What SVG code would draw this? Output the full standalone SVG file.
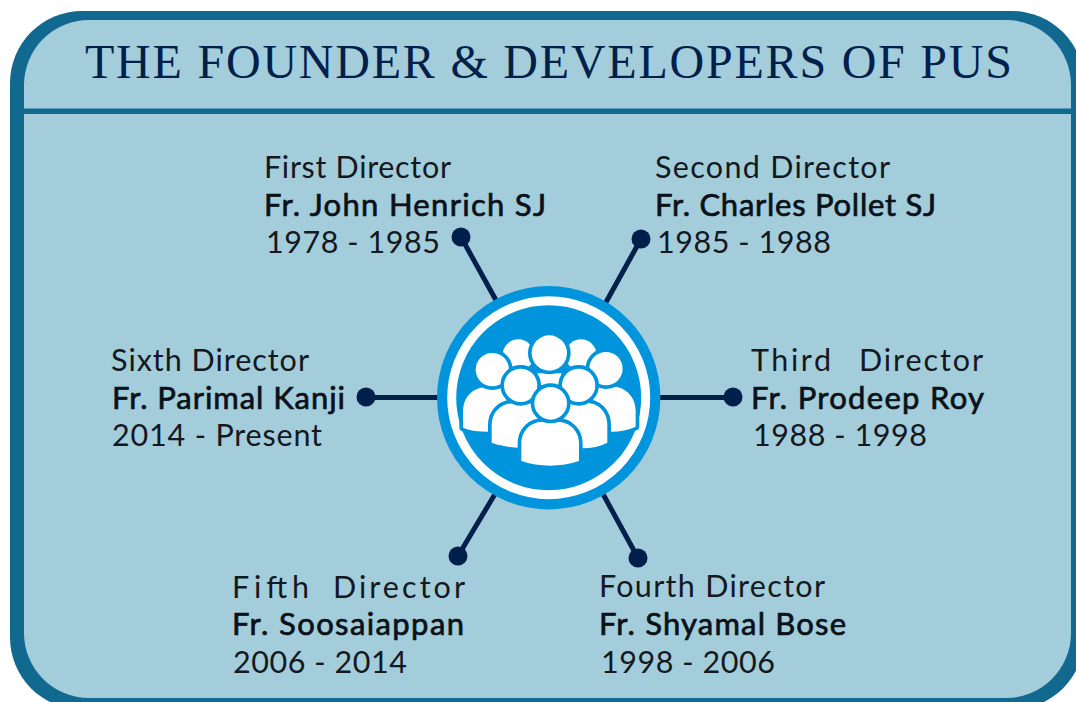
<svg xmlns="http://www.w3.org/2000/svg" width="1076" height="702" viewBox="0 0 1076 702">
<style>
.t{font-family:Lato,"Open Sans",sans-serif;font-size:30.5px;fill:#14181f}
.n{font-family:Lato,"Open Sans",sans-serif;font-size:31px;fill:#0b1118;stroke:#0b1118;stroke-width:.7px}
.title{font-family:"Liberation Serif",serif;font-size:48px;fill:#011f4b}
.c{stroke:#011f4b;stroke-width:5;fill:none}
.d{fill:#011f4b}
.p{fill:#fff;stroke:#0094dc;stroke-width:22;paint-order:stroke;stroke-linejoin:round}
</style>
<g id="frame">
<rect x="10" y="11" width="1074" height="698.500" rx="72" ry="72" fill="#12698f"/>
<rect x="24" y="20" width="1047" height="678" rx="65" ry="65" fill="#a3cddb"/>
<rect x="24" y="108.500" width="1047" height="5.500" fill="#12698f"/>
</g>
<text id="title" class="title" x="85" y="78" textLength="927">THE FOUNDER &amp; DEVELOPERS OF PUS</text>
<g id="connectors">
<line class="c" x1="461" y1="237" x2="497" y2="302"/>
<line class="c" x1="641" y1="239" x2="605" y2="304"/>
<line class="c" x1="366" y1="397.500" x2="440" y2="397.500"/>
<line class="c" x1="733" y1="397.500" x2="658" y2="397.500"/>
<line class="c" x1="458" y1="556" x2="495" y2="494"/>
<line class="c" x1="638" y1="558" x2="603" y2="494"/>
<circle class="d" cx="461" cy="237" r="9.500"/>
<circle class="d" cx="641" cy="239" r="9.500"/>
<circle class="d" cx="366" cy="397" r="9.500"/>
<circle class="d" cx="733" cy="397" r="9.500"/>
<circle class="d" cx="458" cy="556" r="9.500"/>
<circle class="d" cx="638" cy="558" r="9.500"/>
</g>
<g id="hub">
<circle cx="548.700" cy="397.700" r="111.700" fill="#0094dc"/>
<circle cx="548.700" cy="397.700" r="97" fill="none" stroke="#fff" stroke-width="9"/>
<g transform="translate(420 270) scale(.3333)">
<circle class="p" cx="295" cy="255" r="47"/>
<circle class="p" cx="483" cy="255" r="47"/>
<path class="p" d="M352 310H425L415 345H362Z"/>
<circle class="p" cx="388" cy="249" r="53"/>
<path class="p" d="M129 473V425C129 375 165 350 205 350H290L250 470L204 485C175 485 150 482 129 473Z"/>
<path class="p" d="M647 470V425C647 375 610 348 570 348H490L530 470L575 485C600 485 625 480 647 470Z"/>
<circle class="p" cx="217" cy="299" r="50"/>
<circle class="p" cx="558" cy="296" r="50"/>
<path class="p" d="M215 518V465C215 425 245 400 280 400H370L330 520L292 533C265 532 240 526 215 518Z"/>
<path class="p" d="M562 518V465C562 425 535 398 495 398H410L450 520L488 535C515 535 540 530 562 518Z"/>
<circle class="p" cx="302" cy="346" r="50"/>
<circle class="p" cx="476" cy="346" r="50"/>
<path class="p" d="M304 573V520C304 480 335 456 365 456H415C450 456 477 485 477 520V573C450 582 420 587 390 587C360 587 330 582 304 573Z"/>
<circle class="p" cx="392" cy="400" r="49"/>
</g>
</g>
<g id="director-1">
<text class="t" x="264" y="177.500" textLength="187">First Director</text>
<text class="n" x="264" y="216" textLength="282">Fr. John Henrich SJ</text>
<text class="t" x="266" y="252.500" textLength="174">1978 - 1985</text>
</g>
<g id="director-2">
<text class="t" x="655" y="177.500" textLength="235">Second Director</text>
<text class="n" x="655" y="216" textLength="281">Fr. Charles Pollet SJ</text>
<text class="t" x="657" y="252.500" textLength="174">1985 - 1988</text>
</g>
<g id="director-3">
<text class="t" x="751" y="370.500"><tspan textLength="80">Third</tspan><tspan x="859" textLength="124">Director</tspan></text>
<text class="n" x="751" y="409" textLength="233">Fr. Prodeep Roy</text>
<text class="t" x="753" y="446" textLength="174">1988 - 1998</text>
</g>
<g id="director-4">
<text class="t" x="599" y="596.500" textLength="226">Fourth Director</text>
<text class="n" x="599" y="635" textLength="247">Fr. Shyamal Bose</text>
<text class="t" x="601" y="672.500" textLength="174">1998 - 2006</text>
</g>
<g id="director-5">
<text class="t" x="232" y="597.500"><tspan textLength="77">Fifth</tspan><tspan x="333" textLength="132">Director</tspan></text>
<text class="n" x="232" y="635" textLength="232">Fr. Soosaiappan</text>
<text class="t" x="233" y="672.500" textLength="174">2006 - 2014</text>
</g>
<g id="director-6">
<text class="t" x="111" y="370.500" textLength="198">Sixth Director</text>
<text class="n" x="112" y="409" textLength="233">Fr. Parimal Kanji</text>
<text class="t" x="112" y="446" textLength="210">2014 - Present</text>
</g>
</svg>
